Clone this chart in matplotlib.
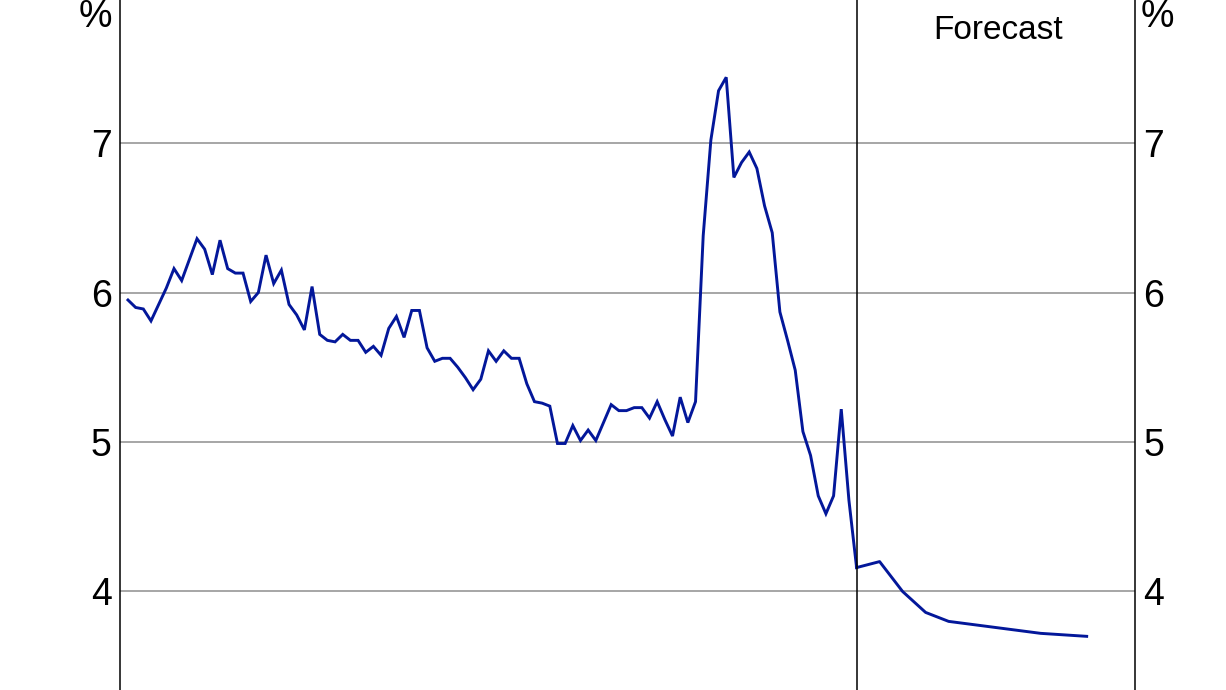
import matplotlib.pyplot as plt
import numpy as np

plt.rcParams['font.family'] = ['Liberation Sans', 'DejaVu Sans']

# 失业率 月度数据 2014-01 .. 2021-12
actual = [5.95, 5.90, 5.89, 5.81, 5.92, 6.03, 6.16, 6.08, 6.22, 6.36,
          6.29, 6.12, 6.35, 6.16, 6.13, 6.13, 5.94, 6.00, 6.25, 6.06,
          6.15, 5.92, 5.85, 5.75, 6.04, 5.72, 5.68, 5.67, 5.72, 5.68,
          5.68, 5.60, 5.64, 5.58, 5.76, 5.84, 5.70, 5.88, 5.88, 5.63,
          5.54, 5.56, 5.56, 5.50, 5.43, 5.35, 5.42, 5.61, 5.54, 5.61,
          5.56, 5.56, 5.39, 5.27, 5.26, 5.24, 4.99, 4.99, 5.11, 5.01,
          5.08, 5.01, 5.13, 5.25, 5.21, 5.21, 5.23, 5.23, 5.16, 5.27,
          5.15, 5.04, 5.30, 5.13, 5.27, 6.38, 7.02, 7.35, 7.44, 6.77,
          6.87, 6.94, 6.83, 6.58, 6.40, 5.87, 5.68, 5.48, 5.07, 4.91,
          4.64, 4.52, 4.64, 5.22, 4.61, 4.16]

# 预测 季度数据 2021-12 .. 2024-06
forecast = [4.16, 4.20, 4.00, 3.86, 3.80, 3.78, 3.76, 3.74, 3.72, 3.71, 3.70]

yticks = [4, 5, 6, 7]

x_act = np.arange(len(actual))
x_fc = x_act[-1] + 3 * np.arange(len(forecast))

fig = plt.figure(figsize=(12.26, 6.90), dpi=100)
ax = fig.add_axes([120 / 1226, 0, (1135 - 120) / 1226, 1])

col = '#03179A'
ax.plot(x_act, actual, color=col, lw=2.1, solid_joinstyle='miter')
ax.plot(x_fc, forecast, color=col, lw=2.1)

ax.set_xlim(-1.04, 131.3)
ax.set_ylim(3.341, 7.957)

for v in yticks:
    ax.axhline(v, color='#A6A6A6', lw=1.4, zorder=0)
ax.axvline(x_act[-1], color='black', lw=1.1)

ax.set_yticks(yticks)
ax.set_xticks([])
ax.tick_params(axis='y', length=0, labelsize=27, pad=6,
               labelleft=True, labelright=True)
for s in ['top', 'bottom']:
    ax.spines[s].set_visible(False)
for s in ['left', 'right']:
    ax.spines[s].set_linewidth(1.1)

ax.text(-0.008, 0.976, '%', transform=ax.transAxes, ha='right', va='center', fontsize=27)
ax.text(1.006, 0.976, '%', transform=ax.transAxes, ha='left', va='center', fontsize=27)
ax.text(0.865, 0.956, 'Forecast', transform=ax.transAxes, ha='center', va='center', fontsize=24)

fig.savefig('out.png', dpi=100)
